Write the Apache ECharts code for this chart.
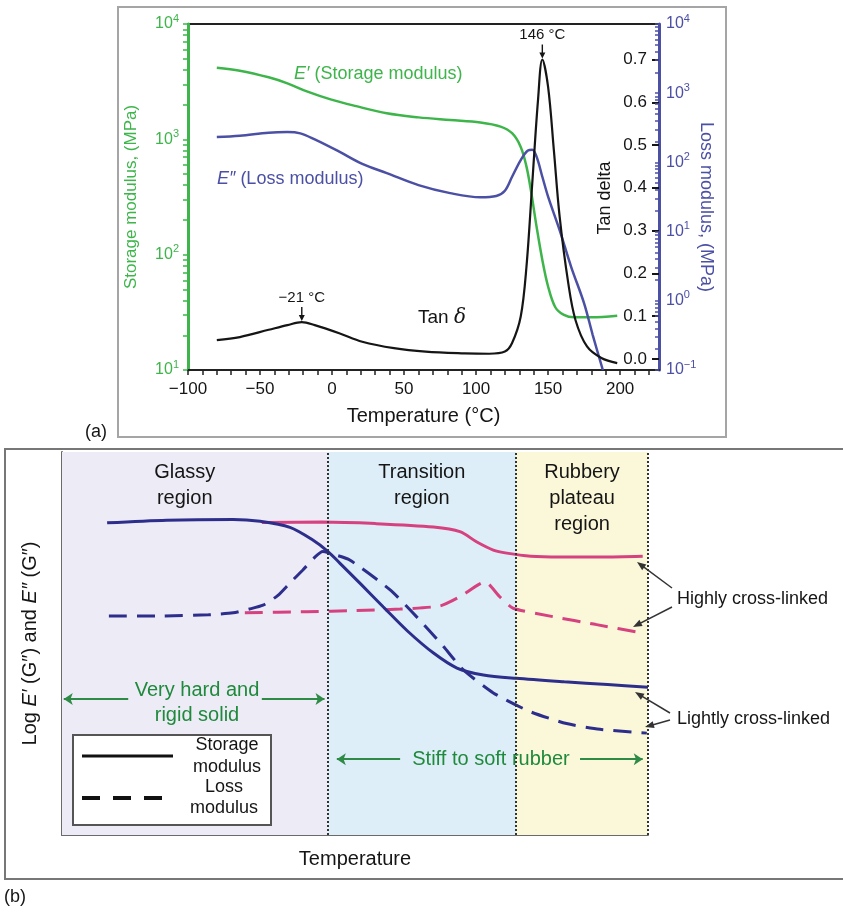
<!DOCTYPE html>
<html>
<head>
<meta charset="utf-8">
<script src="https://cdn.jsdelivr.net/npm/echarts@6/dist/echarts.min.js"></script>
<style>
  html, body { margin: 0; background: #fff; }
  #chart { width: 843px; height: 917px; }
</style>
</head>
<body>
<div id="chart"></div>
<script>
// ---- (a) DMA curves: [temperature °C, value] ----
const storageData = [
  [-80, 4180], [-64, 3940], [-44, 3450], [-31, 3060], [-17, 2590], [-1, 2220], [16, 1950],
  [38, 1680], [60, 1550], [82, 1470], [103, 1400], [117, 1290], [125, 1130], [131, 860],
  [135, 580], [138, 365], [142, 175], [146, 90], [150, 53], [155, 35], [161, 30],
  [168, 28.6], [180, 28.6], [198, 29.6]
];
const lossData = [
  [-80, 232], [-64, 243], [-44, 269], [-31, 275], [-22, 263], [-12, 215], [5, 143], [21, 95],
  [38, 70], [60, 47], [82, 36], [103, 31.3], [114, 32.7], [120, 39], [125, 62], [131, 108],
  [136, 148], [139, 152], [142, 121], [146, 62], [150, 32], [158, 10.5], [166, 3.1],
  [175, 0.92], [181, 0.32], [188, 0.1]
];
const tanData = [
  [-80, 0.044], [-64, 0.051], [-44, 0.068], [-31, 0.079], [-21, 0.086], [-12, 0.079], [5, 0.060],
  [21, 0.040], [43, 0.025], [65, 0.017], [92, 0.013], [109, 0.012], [120, 0.017], [125, 0.037],
  [131, 0.099], [135, 0.216], [139, 0.410], [143, 0.605], [146, 0.700], [150, 0.636], [154, 0.488],
  [158, 0.333], [164, 0.177], [169, 0.091], [177, 0.029], [187, 0.002], [198, -0.010]
];
const tanPeaks = [[-21, 0.086, '−21 °C'], [146, 0.700, '146 °C']];

const tempTicks = [-100, -50, 0, 50, 100, 150, 200];
const tempMinorTicks = [-100, -90, -80, -70, -60, -50, -40, -30, -20, -10, 0, 10, 20, 30, 40, 50,
  60, 70, 80, 90, 100, 110, 120, 130, 140, 150, 160, 170, 180, 190, 200, 210, 220];
const tanTicks = [0, 0.1, 0.2, 0.3, 0.4, 0.5, 0.6, 0.7];
const storageTicks = [10, 100, 1000, 10000];
const storageTickExp = ['1', '2', '3', '4'];
const lossTicks = [0.1, 1, 10, 100, 1000, 10000];
const lossTickExp = ['−1', '0', '1', '2', '3', '4'];

// ---- (b) schematic: [relative temperature, relative log modulus] ----
const regionEdges = [0, 45.3, 77.5, 100];
const regionNames = ['Glassy\nregion', 'Transition\nregion', 'Rubbery\nplateau\nregion'];
const lightStorage = [
  [7.7, 81.5], [17.9, 82.2], [29.2, 82.4], [33.8, 81.9], [38.9, 80.3], [42.8, 77.0], [45.4, 74.0],
  [47.4, 71.0], [51, 65.5], [54.8, 59.6], [59, 53.2], [63.4, 47.5], [67.4, 43.6], [71.9, 41.8],
  [77.5, 40.9], [85.7, 40.0], [93.1, 39.3], [100, 38.6]
];
const highStorage = [
  [34.1, 81.6], [44.3, 81.7], [53.5, 81.3], [63.4, 80.4], [67.9, 79.2], [70.8, 76.5], [73.6, 74.4],
  [75.9, 73.6], [80, 72.8], [85, 72.6], [92, 72.6], [99.1, 72.8]
];
const lightLoss = [
  [8.0, 57.2], [17, 57.2], [25, 57.5], [29.2, 58.0], [32, 59.0], [34.3, 60.0], [36.8, 62.5],
  [38.9, 65.8], [41.1, 69.2], [43.2, 72.6], [44.5, 74.0], [46.5, 73.2], [49.1, 71.8], [56, 64],
  [60.5, 57], [65.1, 49.2], [68.5, 43.1], [73.6, 37.1], [79.9, 32.2], [86.1, 29.1], [91.8, 27.6],
  [99.8, 26.6]
];
const highLoss = [
  [31.2, 58.0], [41.8, 58.3], [50, 58.6], [57.7, 59.0], [64.5, 59.8], [67.9, 62.2], [72.2, 66.1],
  [74.7, 62.2], [77.0, 59.2], [83.8, 57.0], [91, 55.0], [99.1, 52.7]
];

const FONT = '"Liberation Sans", Arial, sans-serif';
const GREEN = '#3db54a';
const BLUE = '#4b50a5';
const NAVY = '#2d2e8c';
const PINK = '#d6417f';
const DARKGREEN = '#1f8a3c';
const INK = '#151515';

// log minor tick positions (1..9 x each decade)
function logMinor(lo, hi) {
  const out = [];
  for (let d = lo; d < hi; d *= 10) {
    for (let m = 1; m < 10; m++) out.push(+(m * d).toPrecision(3));
  }
  out.push(hi);
  return out;
}

function powLabel(ticks, exps) {
  return (v) => {
    const i = ticks.findIndex((t) => Math.abs(t - v) / t < 1e-6);
    return i < 0 ? '' : '{b|10}{s|' + exps[i] + '}';
  };
}

function powRich(color) {
  return {
    b: { fontSize: 16, color, fontFamily: FONT, lineHeight: 22 },
    s: { fontSize: 11, color, fontFamily: FONT, verticalAlign: 'top' }
  };
}

function arrow(x1, y1, x2, y2, color, w) {
  const a = Math.atan2(y2 - y1, x2 - x1);
  const h = 9, s = 3.5;
  const c = Math.cos(a), sn = Math.sin(a);
  return [
    { type: 'line', z: 10, shape: { x1, y1, x2: x2 - c * 4, y2: y2 - sn * 4 }, style: { stroke: color, lineWidth: w } },
    {
      type: 'polygon', z: 10,
      shape: { points: [[x2, y2], [x2 - h * c + s * sn, y2 - h * sn - s * c], [x2 - h * c - s * sn, y2 - h * sn + s * c]] },
      style: { fill: color }
    }
  ];
}

function txt(x, y, text, size, color, align, extra) {
  return {
    type: 'text', x, y, z: 10,
    style: Object.assign({
      text, fontSize: size, fontFamily: FONT, fill: color,
      align: align || 'center', verticalAlign: 'middle'
    }, extra || {})
  };
}

const chart = echarts.init(document.getElementById('chart'));

const regionColors = ['#ecebf6', '#ddeef8', '#fbf8d9'];
const regionArea = regionNames.map((name, i) => [
  {
    xAxis: regionEdges[i], name,
    itemStyle: { color: regionColors[i] },
    label: { offset: i === 0 ? [-10, 0] : [0, 0] }
  },
  { xAxis: regionEdges[i + 1] }
]);

const dashed = [18, 10];

chart.setOption({
  animation: false,
  textStyle: { fontFamily: FONT },
  grid: [
    { left: 188, top: 24, width: 471, height: 346, show: true, borderColor: '#222', borderWidth: 2, backgroundColor: 'transparent' },
    { left: 62, top: 452, width: 586, height: 383 }
  ],
  xAxis: [
    {
      gridIndex: 0, type: 'value', min: -100, max: 227,
      name: 'Temperature (°C)', nameLocation: 'middle', nameGap: 36,
      nameTextStyle: { fontSize: 20, color: INK },
      axisLine: { onZero: false, lineStyle: { color: '#222', width: 2 } },
      axisTick: { customValues: tempMinorTicks, length: 5, lineStyle: { color: '#222', width: 1.5 } },
      axisLabel: {
        customValues: tempTicks, fontSize: 17, color: INK, margin: 11,
        formatter: (v) => String(v).replace('-', '−')
      },
      splitLine: { show: false }
    },
    {
      gridIndex: 1, type: 'value', min: 0, max: 100,
      name: 'Temperature', nameLocation: 'middle', nameGap: 14,
      nameTextStyle: { fontSize: 20, color: INK, verticalAlign: 'top' },
      axisLine: { onZero: false, lineStyle: { color: '#6a6a6a', width: 2 } },
      axisTick: { show: false }, axisLabel: { show: false }, splitLine: { show: false }
    }
  ],
  yAxis: [
    {
      gridIndex: 0, type: 'log', logBase: 10, min: 10, max: 10000, position: 'left',
      name: 'Storage modulus, (MPa)', nameLocation: 'middle', nameGap: 48,
      nameTextStyle: { fontSize: 17, color: GREEN },
      axisLine: { onZero: false, lineStyle: { color: GREEN, width: 3 } },
      axisTick: { customValues: logMinor(10, 10000), length: 5, lineStyle: { color: GREEN, width: 1.5 } },
      axisLabel: { customValues: storageTicks, margin: 9, formatter: powLabel(storageTicks, storageTickExp), rich: powRich(GREEN) },
      splitLine: { show: false }
    },
    {
      gridIndex: 0, type: 'value', min: -0.026, max: 0.783, position: 'right',
      axisLine: { show: false, onZero: false },
      axisTick: { customValues: tanTicks, inside: true, length: 7, lineStyle: { color: INK, width: 2 } },
      axisLabel: { customValues: tanTicks, inside: true, margin: 12, fontSize: 17, color: INK, formatter: (v) => v.toFixed(1) },
      splitLine: { show: false }
    },
    {
      gridIndex: 0, type: 'log', logBase: 10, min: 0.1, max: 10000, position: 'right',
      name: 'Loss modulus, (MPa)', nameLocation: 'middle', nameGap: 38, nameRotate: -90,
      nameMoveOverlap: false,
      nameTextStyle: { fontSize: 18, color: BLUE, padding: [0, 0, 0, 20] },
      axisLine: { onZero: false, lineStyle: { color: BLUE, width: 3 } },
      axisTick: { customValues: logMinor(0.1, 10000), inside: true, length: 4, lineStyle: { color: BLUE, width: 1.5 } },
      axisLabel: { customValues: lossTicks, margin: 7, formatter: powLabel(lossTicks, lossTickExp), rich: powRich(BLUE) },
      splitLine: { show: false }
    },
    {
      gridIndex: 1, type: 'value', min: 0, max: 100,
      name: 'Log {i|E′} (G″) and {i|E″} (G″)', nameLocation: 'middle', nameGap: 22,
      nameTextStyle: {
        fontSize: 20, color: INK,
        rich: { i: { fontSize: 20, color: INK, fontStyle: 'italic', fontFamily: FONT } }
      },
      axisLine: { onZero: false, lineStyle: { color: '#6a6a6a', width: 2 } },
      axisTick: { show: false }, axisLabel: { show: false }, splitLine: { show: false }
    }
  ],
  series: [
    {
      name: 'Storage modulus', type: 'line', xAxisIndex: 0, yAxisIndex: 0, data: storageData,
      smooth: 0.35, showSymbol: false, lineStyle: { color: GREEN, width: 2.5 }, z: 3
    },
    {
      name: 'Loss modulus', type: 'line', xAxisIndex: 0, yAxisIndex: 2, data: lossData,
      smooth: 0.35, showSymbol: false, lineStyle: { color: BLUE, width: 2.5 }, z: 3
    },
    {
      name: 'Tan delta', type: 'line', xAxisIndex: 0, yAxisIndex: 1, data: tanData,
      smooth: 0.35, showSymbol: false, lineStyle: { color: INK, width: 2.2 }, z: 4,
      markPoint: {
        symbol: 'path://M-0.7,0 L0.7,0 L0.7,8 L3,8 L0,14 L-3,8 L-0.7,8 Z',
        symbolSize: [6, 14], symbolKeepAspect: false, symbolOffset: [0, -8],
        itemStyle: { color: INK },
        label: { show: true, position: 'top', distance: 2, fontSize: 15, color: INK, formatter: (p) => p.name },
        data: tanPeaks.map((p) => ({ name: p[2], coord: [p[0], p[1]] }))
      }
    },
    {
      name: 'regions', type: 'line', xAxisIndex: 1, yAxisIndex: 3, data: [], z: 1, silent: true,
      markArea: {
        silent: true,
        label: { show: true, position: 'insideTop', distance: 7, fontSize: 20, lineHeight: 26, color: INK },
        data: regionArea
      },
      markLine: {
        silent: true, symbol: ['none', 'none'],
        label: { show: false },
        lineStyle: { color: '#333', width: 2, type: [2, 2] },
        data: regionEdges.slice(1).map((x) => ({ xAxis: x }))
      }
    },
    {
      name: 'spans', type: 'line', xAxisIndex: 1, yAxisIndex: 3, data: [], z: 2, silent: true,
      markLine: {
        silent: true, symbol: ['none', 'arrow'], symbolSize: 9,
        label: { show: false },
        lineStyle: { color: '#2e8b45', width: 2, type: 'solid' },
        data: [
          [{ coord: [11.3, 35.5] }, { coord: [0.3, 35.5] }],
          [{ coord: [34.1, 35.5] }, { coord: [44.8, 35.5] }],
          [{ coord: [57.7, 19.8] }, { coord: [46.9, 19.8] }],
          [{ coord: [88.4, 19.8] }, { coord: [99.1, 19.8] }]
        ]
      }
    },
    {
      name: 'Highly storage', type: 'line', xAxisIndex: 1, yAxisIndex: 3, data: highStorage,
      smooth: 0.3, showSymbol: false, lineStyle: { color: PINK, width: 3 }, z: 3
    },
    {
      name: 'Highly loss', type: 'line', xAxisIndex: 1, yAxisIndex: 3, data: highLoss,
      smooth: 0.2, showSymbol: false, lineStyle: { color: PINK, width: 3, type: dashed }, z: 3
    },
    {
      name: 'Lightly storage', type: 'line', xAxisIndex: 1, yAxisIndex: 3, data: lightStorage,
      smooth: 0.3, showSymbol: false, lineStyle: { color: NAVY, width: 3 }, z: 4
    },
    {
      name: 'Lightly loss', type: 'line', xAxisIndex: 1, yAxisIndex: 3, data: lightLoss,
      smooth: 0.2, showSymbol: false, lineStyle: { color: NAVY, width: 3, type: dashed }, z: 4
    }
  ],
  graphic: [
    // panel frames
    { type: 'rect', shape: { x: 118, y: 7, width: 608, height: 430 }, style: { fill: 'none', stroke: '#a5a5a5', lineWidth: 2 }, z: -1 },
    { type: 'rect', shape: { x: 5, y: 449, width: 850, height: 430 }, style: { fill: 'none', stroke: '#777', lineWidth: 2 }, z: -1 },
    txt(96, 432, '(a)', 18, INK),
    txt(15, 897, '(b)', 18, INK),
    // tan delta axis title (sits inside the plot, left of its inside labels)
    Object.assign(txt(605, 198, 'Tan delta', 18, INK), { rotation: Math.PI / 2 }),
    // panel (a) curve labels
    txt(294, 74, '{i|E′} (Storage modulus)', 18, GREEN, 'left', {
      rich: { i: { fontStyle: 'italic', fontSize: 18, fontFamily: FONT, fill: GREEN } }
    }),
    txt(217, 179, '{i|E″} (Loss modulus)', 18, BLUE, 'left', {
      rich: { i: { fontStyle: 'italic', fontSize: 18, fontFamily: FONT, fill: BLUE } }
    }),
    txt(418, 318, 'Tan {d|δ}', 19, INK, 'left', {
      rich: { d: { fontStyle: 'italic', fontSize: 20, fontFamily: '"DejaVu Serif", serif', fill: INK } }
    }),
    // panel (b) annotations
    txt(197, 703, 'Very hard and\nrigid solid', 20, DARKGREEN, 'center', { lineHeight: 25 }),
    txt(491, 759, 'Stiff to soft rubber', 20, DARKGREEN),
    txt(677, 599, 'Highly cross-linked', 18, INK, 'left'),
    txt(677, 719, 'Lightly cross-linked', 18, INK, 'left'),
    ...arrow(672, 588, 637, 562, '#333', 1.5),
    ...arrow(672, 607, 633, 627, '#333', 1.5),
    ...arrow(670, 713, 635, 692, '#333', 1.5),
    ...arrow(670, 720, 645, 727, '#333', 1.5),
    // legend box
    { type: 'rect', shape: { x: 73, y: 735, width: 198, height: 90 }, style: { fill: '#fff', stroke: '#555', lineWidth: 2 }, z: 10 },
    { type: 'line', shape: { x1: 82, y1: 756, x2: 173, y2: 756 }, style: { stroke: '#111', lineWidth: 3 }, z: 11 },
    { type: 'line', shape: { x1: 82, y1: 798, x2: 162, y2: 798 }, style: { stroke: '#111', lineWidth: 4, lineDash: [18, 13] }, z: 11 },
    Object.assign(txt(227, 756, 'Storage\nmodulus', 18, INK, 'center', { lineHeight: 22 }), { z: 11 }),
    Object.assign(txt(224, 798, 'Loss\nmodulus', 18, INK, 'center', { lineHeight: 21 }), { z: 11 })
  ]
});
</script>
</body>
</html>
